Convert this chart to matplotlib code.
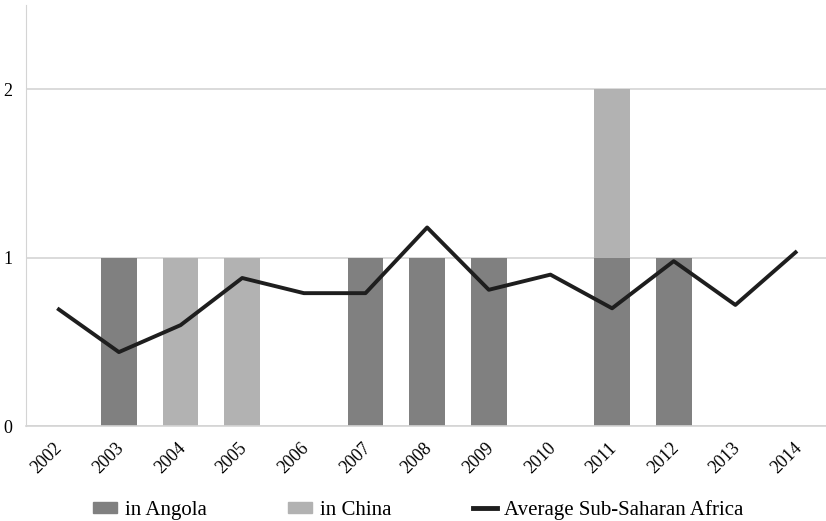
import matplotlib
matplotlib.use("Agg")
import matplotlib.pyplot as plt
import matplotlib.transforms as mtransforms
from matplotlib.patches import Patch
from matplotlib.lines import Line2D
import numpy as np

years = ["2002", "2003", "2004", "2005", "2006", "2007", "2008",
         "2009", "2010", "2011", "2012", "2013", "2014"]
in_angola = [0, 1, 0, 0, 0, 1, 1, 1, 0, 1, 1, 0, 0]
in_china = [0, 0, 1, 1, 0, 0, 0, 0, 0, 1, 0, 0, 0]
avg_ssa = [0.70, 0.44, 0.60, 0.88, 0.79, 0.79, 1.18, 0.81, 0.90, 0.70, 0.98, 0.72, 1.04]

angola_color = "#808080"
china_color = "#b2b2b2"
line_color = "#1e1e1e"

plt.rcParams["font.family"] = ["Liberation Serif", "DejaVu Serif"]

fig = plt.figure(figsize=(8.26, 5.21), dpi=100)
ax = fig.add_axes([0.032, 0.182, 0.968, 0.808])

x = np.arange(len(years))
w = 0.58
ax.bar(x, in_angola, width=w, color=angola_color, zorder=2)
ax.bar(x, in_china, width=w, bottom=in_angola, color=china_color, zorder=2)
ax.plot(x, avg_ssa, color=line_color, lw=2.8, zorder=3, solid_capstyle="butt")

ax.set_xlim(-0.5, 12.47)
ax.set_ylim(0, 2.5)
ax.set_yticks([0, 1, 2])
ax.set_yticklabels(["0", "1", "2"], fontsize=13)
ax.set_xticks(x)
ax.set_xticklabels(years, rotation=45, fontsize=13, ha="right", va="center",
                   rotation_mode="anchor")
ax.tick_params(length=0)
ax.tick_params(axis="x", pad=14)
ax.tick_params(axis="y", pad=10)

# nudge the slanted year labels a little to the right
shift = mtransforms.ScaledTranslation(2.5 / 100, 0, fig.dpi_scale_trans)
for lbl in ax.get_xticklabels():
    lbl.set_transform(lbl.get_transform() + shift)

ax.yaxis.grid(True, color="#d4d4d4", lw=1.2, zorder=0)
for s in ["top", "right"]:
    ax.spines[s].set_visible(False)
ax.spines["left"].set_color("#d4d4d4")
ax.spines["bottom"].set_color("#d4d4d4")
ax.spines["bottom"].set_linewidth(1.2)

handles = [
    Patch(color=angola_color, label="in Angola"),
    Patch(color=china_color, label="in China"),
    Line2D([0], [0], color=line_color, lw=3.5, label="Average Sub-Saharan Africa"),
]
fig.legend(handles=handles, loc="center left", bbox_to_anchor=(93 / 826, 1 - 510 / 521),
           ncol=3, frameon=False, fontsize=15, handlelength=1.15,
           handleheight=0.48, handletextpad=0.38, columnspacing=3.9,
           borderpad=0, borderaxespad=0)

fig.savefig("out.png", dpi=100)
